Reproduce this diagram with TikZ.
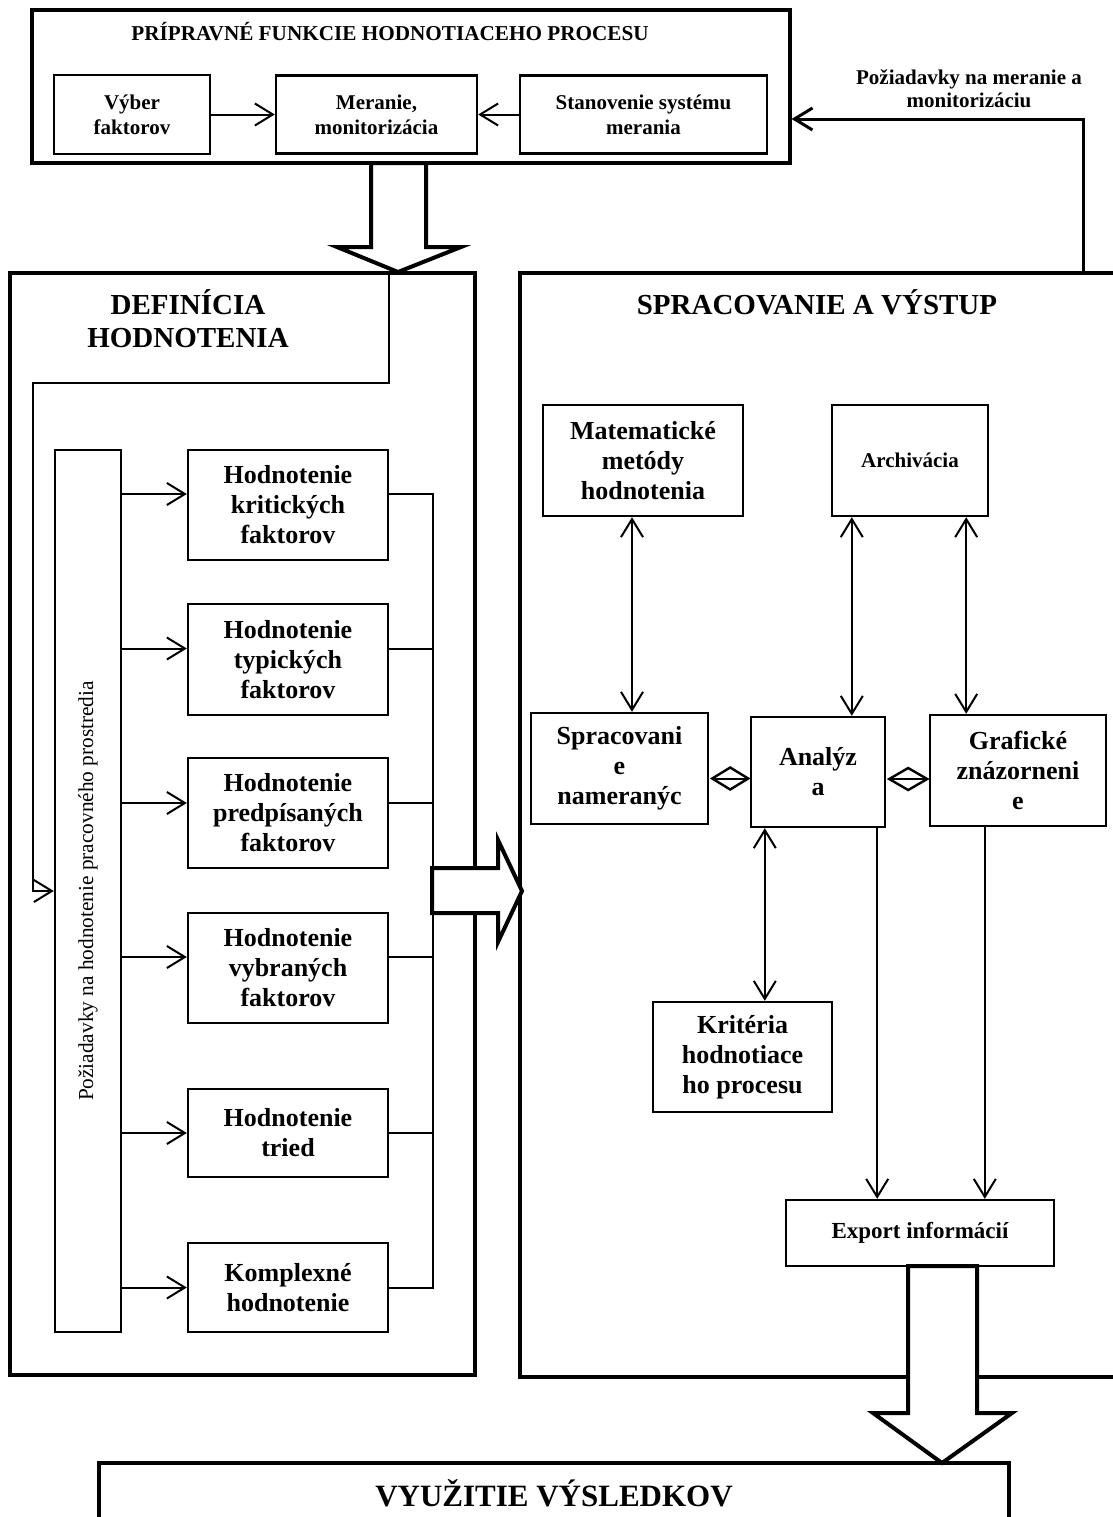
\documentclass[tikz,border=0pt]{standalone}
\usepackage{fontspec}
\setmainfont{Liberation Serif}
\usepackage{graphicx}
\usetikzlibrary{arrows.meta}

\begin{document}
\begin{tikzpicture}[x=0.5pt,y=-0.5pt,
  sipka/.style={-{Straight Barb[length=9pt,width=11pt]},line width=1pt},
  obojsmer/.style={{Straight Barb[length=9pt,width=11pt]}-{Straight Barb[length=9pt,width=11pt]},line width=1pt},
  spoj/.style={line width=1pt},
  kosostvorec/.style={line width=1.2pt,line join=miter},
  blok/.style={draw,line width=1.2pt,align=center,inner sep=0pt,font=\bfseries\fontsize{13}{15}\selectfont},
  maly/.style={draw,line width=1.2pt,align=center,inner sep=0pt,font=\bfseries\fontsize{10.5}{12.5}\selectfont},
  panel/.style={draw,line width=1.8pt},
  velka/.style={draw,fill=white,line width=2pt,line join=miter}]
\useasboundingbox (0,0) rectangle (1113,1517);

% Pripravne funkcie
\node[panel,line width=1.6pt,minimum width=379pt,minimum height=76.5pt] (priprava) at (411,86.5) {};
\node[font=\bfseries\fontsize{10.6}{12}\selectfont] (nadpis) at (390,32) {PRÍPRAVNÉ FUNKCIE HODNOTIACEHO PROCESU};
\node[maly,minimum width=78pt,minimum height=39.5pt] (vyber) at (132,114.5) {Výber\\faktorov};
\node[maly,minimum width=100.5pt,minimum height=39pt] (meranie) at (376.5,114.5) {Meranie,\\monitorizácia};
\node[maly,minimum width=123.5pt,minimum height=39pt] (stanovenie) at (643.5,114.5) {Stanovenie systému\\merania};
\draw[sipka] (vyber.east) -- (meranie.west);
\draw[sipka] (stanovenie.west) -- (meranie.east);

% Definicia hodnotenia
\node[panel,minimum width=232.5pt,minimum height=551pt] (definicia) at (242.5,824) {};
\node[font=\bfseries\fontsize{14.5}{16.5}\selectfont,align=center] (defnadpis) at (188,318.5) {DEFINÍCIA\\HODNOTENIA};

% Spracovanie a vystup
\draw[line width=1.8pt] (1120,273) -- (520,273) -- (520,1377) -- (1120,1377);
\node[font=\bfseries\fontsize{14.5}{16.5}\selectfont] (sprnadpis) at (817,302) {SPRACOVANIE A VÝSTUP};

% Vyuzitie vysledkov
\draw[line width=1.8pt] (99,1530) -- (99,1463) -- (1009,1463) -- (1009,1530);
\node[font=\bfseries\fontsize{15.5}{18}\selectfont] (vyuzitie) at (554,1493) {VYUŽITIE VÝSLEDKOV};

% Poziadavky na meranie
\coordinate (roh) at (1083,273);
\coordinate (ohyb) at (1083,119);
\draw[sipka,line width=1.5pt] (roh) -- (ohyb) -- (ohyb -| priprava.east);
\node[font=\bfseries\fontsize{10.5}{11.5}\selectfont,align=center] (pozmer) at (969,88.5) {Požiadavky na meranie a\\monitorizáciu};

% Hodnotenia
\node[blok,font=\fontsize{10.65}{12}\selectfont,minimum width=33pt,minimum height=441pt] (poziadavky) at (88,891) {\rotatebox{90}{Požiadavky na hodnotenie pracovného prostredia}};
\node[blok,minimum width=100pt,minimum height=55pt] (kriticke) at (288,505) {Hodnotenie\\kritických\\faktorov};
\node[blok,minimum width=100pt,minimum height=55.5pt] (typicke) at (288,659.5) {Hodnotenie\\typických\\faktorov};
\node[blok,minimum width=100pt,minimum height=55pt] (predpisane) at (288,813) {Hodnotenie\\predpísaných\\faktorov};
\node[blok,minimum width=100pt,minimum height=55pt] (vybrane) at (288,968) {Hodnotenie\\vybraných\\faktorov};
\node[blok,minimum width=100pt,minimum height=44pt] (triedy) at (288,1133) {Hodnotenie\\tried};
\node[blok,minimum width=100pt,minimum height=44.5pt] (komplexne) at (288,1287.5) {Komplexné\\hodnotenie};

\coordinate (vstup) at (389,273);
\coordinate (lomA) at (389,383);
\coordinate (lomB) at (33,383);
\draw[sipka] (vstup) -- (lomA) -- (lomB) -- (lomB |- poziadavky.west) -- (poziadavky.west);

\draw[sipka] ([yshift=5.5pt]kriticke.west -| poziadavky.east) -- ([yshift=5.5pt]kriticke.west);
\draw[sipka] ([yshift=5.5pt]typicke.west -| poziadavky.east) -- ([yshift=5.5pt]typicke.west);
\draw[sipka] ([yshift=5pt]predpisane.west -| poziadavky.east) -- ([yshift=5pt]predpisane.west);
\draw[sipka] ([yshift=5.5pt]vybrane.west -| poziadavky.east) -- ([yshift=5.5pt]vybrane.west);
\draw[sipka] (triedy.west -| poziadavky.east) -- (triedy.west);
\draw[sipka] (komplexne.west -| poziadavky.east) -- (komplexne.west);

\coordinate (zber) at ([xshift=22pt,yshift=5.5pt]kriticke.east);
\draw[spoj] ([yshift=5.5pt]kriticke.east) -- (zber) -- (zber |- komplexne.east) -- (komplexne.east);
\draw[spoj] ([yshift=5.5pt]typicke.east) -- ([yshift=5.5pt]typicke.east -| zber);
\draw[spoj] ([yshift=5pt]predpisane.east) -- ([yshift=5pt]predpisane.east -| zber);
\draw[spoj] ([yshift=5.5pt]vybrane.east) -- ([yshift=5.5pt]vybrane.east -| zber);
\draw[spoj] (triedy.east) -- (triedy.east -| zber);

% Spracovanie
\node[blok,minimum width=100pt,minimum height=55.5pt] (matematicke) at (643,460.5) {Matematické\\metódy\\hodnotenia};
\node[maly,minimum width=78pt,minimum height=55.5pt] (archivacia) at (910,460.5) {Archivácia};
\node[blok,minimum width=88.5pt,minimum height=55.5pt] (spracovanie) at (619.5,768.5) {Spracovani\\e\\nameranýc};
\node[blok,minimum width=67pt,minimum height=55pt] (analyza) at (818,772) {Analýz\\a};
\node[blok,minimum width=88pt,minimum height=55.5pt] (graficke) at (1018,770.5) {Grafické\\znázorneni\\e};
\node[blok,minimum width=89.5pt,minimum height=55pt] (kriteria) at (742.5,1057) {Kritéria\\hodnotiace\\ho procesu};
\node[blok,font=\bfseries\fontsize{11.5}{13}\selectfont,minimum width=134pt,minimum height=33pt] (export) at (920,1233) {Export informácií};

\draw[obojsmer] ([xshift=-5.5pt]matematicke.south) -- ([xshift=-5.5pt]matematicke.south |- spracovanie.north);
\draw[obojsmer] ([xshift=10.5pt]archivacia.south west) -- ([xshift=10.5pt]archivacia.south west |- analyza.north);
\draw[obojsmer] ([xshift=-11.5pt]archivacia.south east) -- ([xshift=-11.5pt]archivacia.south east |- graficke.north);
\draw[obojsmer] ([xshift=7.5pt]analyza.south west) -- ([xshift=7.5pt]analyza.south west |- kriteria.north);
\draw[sipka] ([xshift=-4.5pt]analyza.south east) -- ([xshift=-4.5pt]analyza.south east |- export.north);
\draw[sipka] ([xshift=28pt]graficke.south west) -- ([xshift=28pt]graficke.south west |- export.north);

% kosostvorce medzi spracovanim, analyzou a grafikou
\draw[kosostvorec] ([xshift=1.5pt,yshift=-5pt]spracovanie.east) -- ++(9pt,5.5pt) -- ++(9pt,-5.5pt) -- ++(-9pt,-5.5pt) -- cycle;
\draw[spoj] ([xshift=1.5pt,yshift=-5pt]spracovanie.east) -- ([xshift=-1.5pt,yshift=-5pt]spracovanie.east -| analyza.west);
\draw[kosostvorec] ([xshift=1.5pt,yshift=-3.5pt]analyza.east) -- ++(9.5pt,5.5pt) -- ++(9.5pt,-5.5pt) -- ++(-9.5pt,-5.5pt) -- cycle;
\draw[spoj] ([xshift=1.5pt,yshift=-3.5pt]analyza.east) -- ([xshift=-1.5pt,yshift=-3.5pt]analyza.east -| graficke.west);

% Velke sipky
\draw[velka] (371,163) -- (371,247) -- (337,247) -- (398,272) -- (461,247) -- (426,247) -- (426,163) -- cycle;
\draw[velka] (432,868) -- (498,868) -- (498,840) -- (522,891) -- (498,942) -- (498,913) -- (432,913) -- cycle;
\draw[velka] (908,1266) -- (908,1413) -- (873,1413) -- (942,1463) -- (1012,1413) -- (977,1413) -- (977,1266) -- cycle;
\end{tikzpicture}
\end{document}
